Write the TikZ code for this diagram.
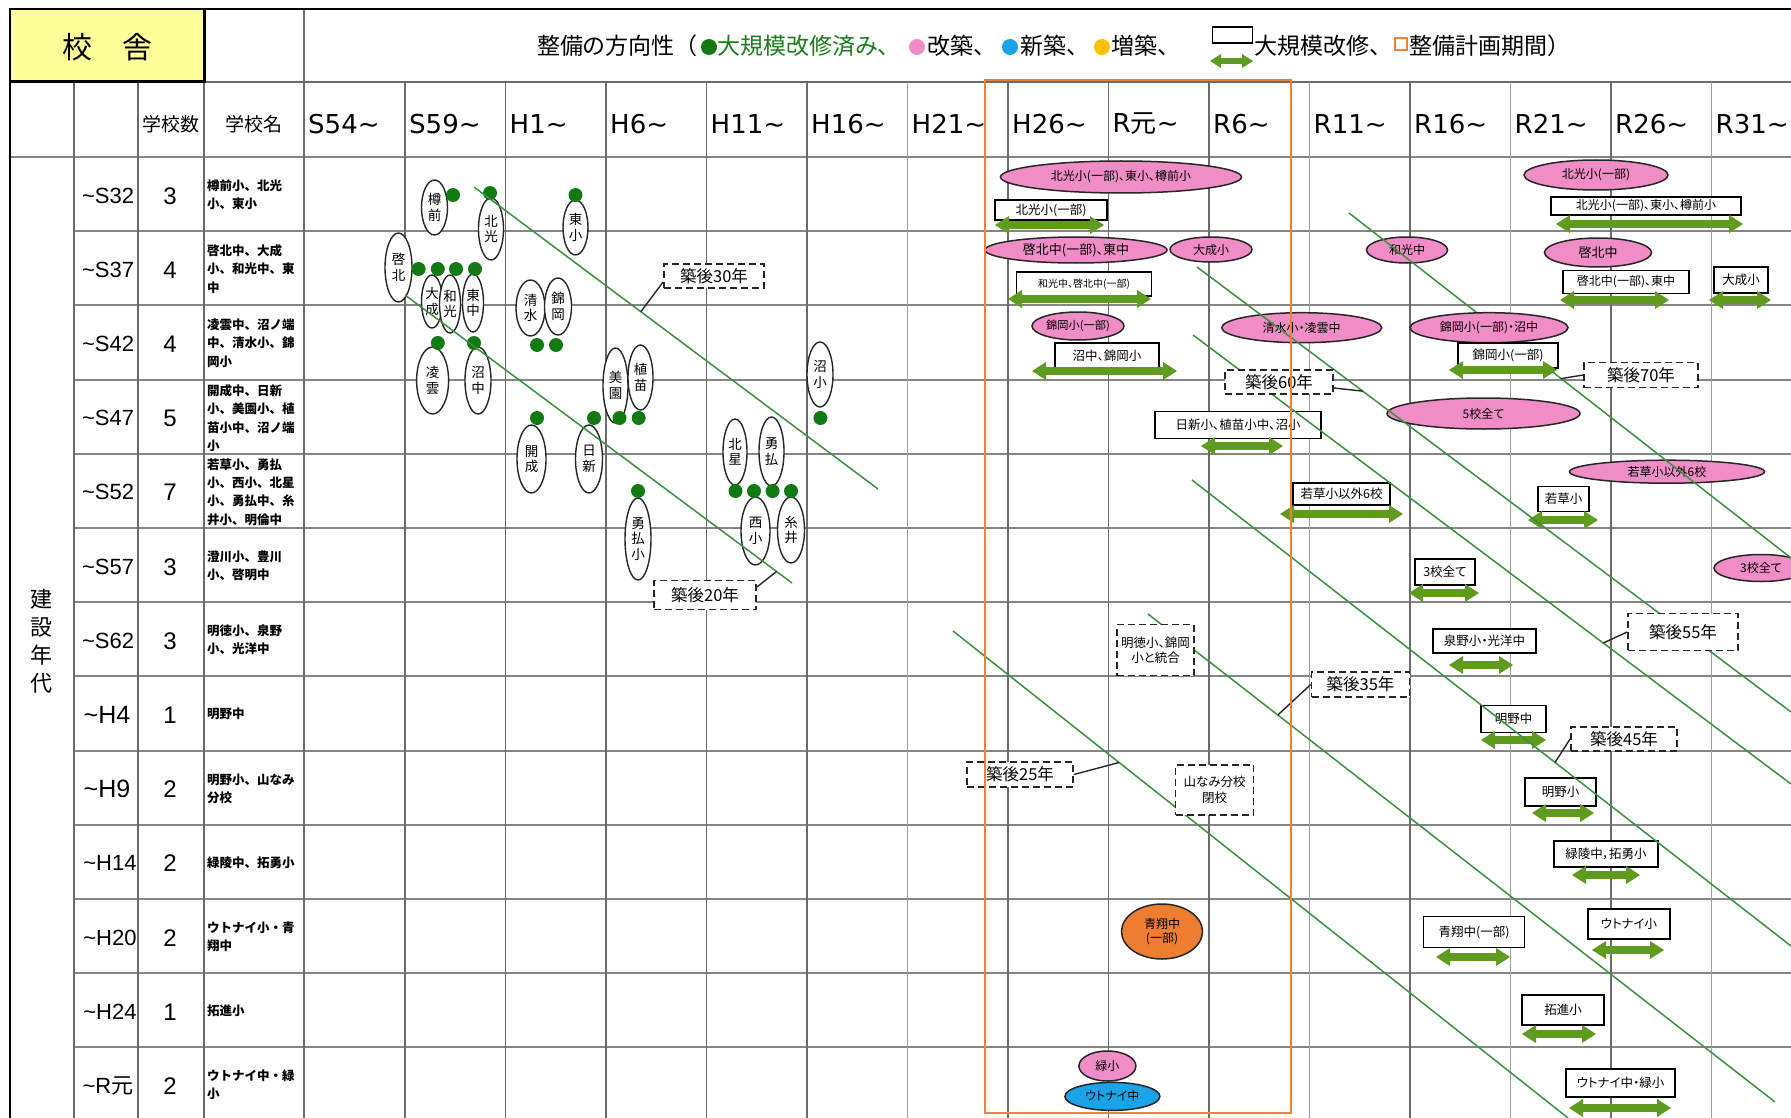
\documentclass[tikz,border=0pt]{standalone}
\usepackage{fontspec}
\usepackage{tikz}
\usetikzlibrary{shapes.geometric, arrows.meta, calc}
\setmainfont{Liberation Sans}
\newfontfamily\jp[RawFeature=+palt]{Noto Sans CJK JP}
\newfontfamily\jpm{Noto Sans CJK JP}
\newfontfamily\dvs{DejaVu Sans}
\definecolor{kkyellow}{HTML}{FFFF99}
\definecolor{kkpink}{HTML}{F08CC6}
\definecolor{kkblue}{HTML}{1AA3E6}
\definecolor{kkorange}{HTML}{ED7D31}
\definecolor{kkgold}{HTML}{FFC000}
\definecolor{kkframe}{HTML}{EE8236}
\definecolor{kkdot}{HTML}{127A12}
\definecolor{kktext}{HTML}{1C7C1C}
\definecolor{kkarrow}{HTML}{5E9B1E}
\definecolor{kkline}{HTML}{3A9140}

\begin{document}
\begin{tikzpicture}[
    x=1pt, y=-1pt,
    gridln/.style={draw=black!58, line width=1.7pt},
    gridlt/.style={draw=black!38, line width=1.4pt},
    rowln/.style={draw=black!48, line width=2pt},
    outerln/.style={draw=black, line width=2pt},
    hdr/.style={font=\dvs\fontsize{26}{26}\selectfont, anchor=west, inner sep=0pt},
    era/.style={font=\fontsize{22}{22}\selectfont, inner sep=0pt},
    cnt/.style={font=\fontsize{24}{24}\selectfont, inner sep=0pt},
    names/.style={font=\jpm\bfseries\fontsize{12.5}{18.3}\selectfont, anchor=west, align=left, inner sep=0pt},
    lgd/.style={font=\jp\fontsize{23}{23}\selectfont, anchor=west, inner sep=0pt},
    bld/.style={ellipse, draw=black!85, line width=1.4pt, fill=white, inner sep=0pt, align=center, font=\jp\fontsize{13.5}{15.5}\selectfont},
    done/.style={circle, fill=kkdot, inner sep=0pt, minimum size=14pt},
    rebuild/.style={ellipse, draw=black!85, line width=1.5pt, fill=kkpink, inner sep=0pt, align=center, font=\jp\fontsize{12}{14}\selectfont},
    renov/.style={rectangle, draw=black, line width=1.7pt, fill=white, inner sep=0pt, align=center, font=\jp\fontsize{12.5}{14}\selectfont},
    period/.style={draw=kkarrow, line width=8pt, arrows={Triangle[length=14pt,width=18pt,line width=0pt]-Triangle[length=14pt,width=18pt,line width=0pt]}},
    note/.style={rectangle, draw=black!85, line width=1.8pt, dash pattern=on 7pt off 4pt, fill=white, inner sep=0pt, align=center, font=\jp\fontsize{16.5}{18}\selectfont},
    memo/.style={note, font=\jp\fontsize{12.5}{15.5}\selectfont},
    ageln/.style={draw=kkline, line width=1.5pt},
    leader/.style={draw=black!85, line width=1.4pt}
]
\useasboundingbox (0,0) rectangle (1791,1118);
\clip (0,0) rectangle (1791,1118);
\fill[white] (0,0) rectangle (1791,1118);

% Header
\fill[kkyellow] (9,9) rectangle (204,82);
\node[font=\jp\fontsize{30}{30}\selectfont, inner sep=0pt] (kosha) at (107,47) {校　舎};

% Grid
\draw[gridln] (204,82) -- (1791,82);
\draw[rowln] (9,157) -- (1791,157);
\draw[rowln] (74,231.2) -- (1791,231.2) (74,305.4) -- (1791,305.4) (74,379.6) -- (1791,379.6)
  (74,453.8) -- (1791,453.8) (74,528) -- (1791,528) (74,602.2) -- (1791,602.2)
  (74,676.4) -- (1791,676.4) (74,750.6) -- (1791,750.6) (74,824.8) -- (1791,824.8)
  (74,899) -- (1791,899) (74,973.2) -- (1791,973.2) (74,1047.4) -- (1791,1047.4);
\draw[gridln] (74,82) -- (74,1118) (138,82) -- (138,1118) (204,82) -- (204,1118) (304,9) -- (304,1118)
  (405,82) -- (405,1118) (505.5,82) -- (505.5,1118) (606,82) -- (606,1118) (706.5,82) -- (706.5,1118)
  (807,82) -- (807,1118) (1008,82) -- (1008,1118) (1108.5,82) -- (1108.5,1118) (1209,82) -- (1209,1118)
  (1410,82) -- (1410,1118) (1611,82) -- (1611,1118);
\draw[gridlt] (907.5,82) -- (907.5,1118) (1309.5,82) -- (1309.5,1118) (1510.5,82) -- (1510.5,1118) (1711.5,82) -- (1711.5,1118);
\draw[outerln] (9.5,1118) -- (9.5,9) -- (1791,9);
\draw[line width=3pt] (9,82) -- (204,82) -- (204,9);

% Legend
\node[lgd] (lgtitle) at (537,46) {整備の方向性{\jpm （}};
\node[done, minimum size=16pt] (lgdone) at (709,47) {};
\node[lgd, text=kktext] (lgdonetxt) at (717,46) {大規模改修済み、};
\node[circle, fill=kkpink, minimum size=16pt, inner sep=0pt] (lgpink) at (917,47) {};
\node[lgd] (lgpinktxt) at (927,46) {改築、};
\node[circle, fill=kkblue, minimum size=16pt, inner sep=0pt] (lgblue) at (1010,47) {};
\node[lgd] (lgbluetxt) at (1020,46) {新築、};
\node[circle, fill=kkgold, minimum size=16pt, inner sep=0pt] (lggold) at (1102,47) {};
\node[lgd] (lggoldtxt) at (1111,46) {増築、};
\node[draw, line width=1.5pt, minimum width=40pt, minimum height=16pt, inner sep=0pt] (lgbox) at (1232.5,35) {};
\draw[draw=kkarrow, line width=6pt, arrows={Triangle[length=11pt,width=14pt,line width=0pt]-Triangle[length=11pt,width=14pt,line width=0pt]}] (1210,61) -- (1253,61);
\node[lgd] (lgboxtxt) at (1254,46) {大規模改修、};
\node[draw=kkframe, line width=1.8pt, fill=white, minimum size=12pt, inner sep=0pt] (lgframe) at (1401,44) {};
\node[lgd] (lgframetxt) at (1409,46) {整備計画期間{\jpm ）}};

% Column heads
\node[font=\jpm\fontsize{19}{19}\selectfont, inner sep=0pt] (hcount) at (171,124) {学校数};
\node[font=\jpm\fontsize{19}{19}\selectfont, inner sep=0pt] (hname) at (254,124) {学校名};
\node[hdr] (y1) at (308,124) {S54\textasciitilde};
\node[hdr] (y2) at (409,124) {S59\textasciitilde};
\node[hdr] (y3) at (509.5,124) {H1\textasciitilde};
\node[hdr] (y4) at (610,124) {H6\textasciitilde};
\node[hdr] (y5) at (710.5,124) {H11\textasciitilde};
\node[hdr] (y6) at (811,124) {H16\textasciitilde};
\node[hdr] (y7) at (911.5,124) {H21\textasciitilde};
\node[hdr] (y8) at (1012,124) {H26\textasciitilde};
\node[hdr] (y9) at (1112.5,124) {R{\jp 元}\textasciitilde};
\node[hdr] (y10) at (1213,124) {R6\textasciitilde};
\node[hdr] (y11) at (1313.5,124) {R11\textasciitilde};
\node[hdr] (y12) at (1414,124) {R16\textasciitilde};
\node[hdr] (y13) at (1514.5,124) {R21\textasciitilde};
\node[hdr] (y14) at (1615,124) {R26\textasciitilde};
\node[hdr] (y15) at (1715.5,124) {R31\textasciitilde};

% Rows
\node[font=\jpm\fontsize{22}{28}\selectfont, align=center, inner sep=0pt] (kensetsu) at (41,641) {建\\設\\年\\代};
\node[era] (e1) at (108,196) {\textasciitilde S32};
\node[era] (e2) at (108,270) {\textasciitilde S37};
\node[era] (e3) at (108,344) {\textasciitilde S42};
\node[era] (e4) at (108,418) {\textasciitilde S47};
\node[era] (e5) at (108,492) {\textasciitilde S52};
\node[era] (e6) at (108,567) {\textasciitilde S57};
\node[era] (e7) at (108,641) {\textasciitilde S62};
\node[era, font=\fontsize{25}{25}\selectfont] (e8) at (107,715) {\textasciitilde H4};
\node[era, font=\fontsize{25}{25}\selectfont] (e9) at (107,789) {\textasciitilde H9};
\node[era] (e10) at (110,863) {\textasciitilde H14};
\node[era] (e11) at (110,938) {\textasciitilde H20};
\node[era] (e12) at (110,1012) {\textasciitilde H24};
\node[era] (e13) at (108,1086) {\textasciitilde R{\jp 元}};
\node[cnt] (c1) at (170,196) {3};
\node[cnt] (c2) at (170,270) {4};
\node[cnt] (c3) at (170,344) {4};
\node[cnt] (c4) at (170,418) {5};
\node[cnt] (c5) at (170,492) {7};
\node[cnt] (c6) at (170,567) {3};
\node[cnt] (c7) at (170,641) {3};
\node[cnt] (c8) at (170,715) {1};
\node[cnt] (c9) at (170,789) {2};
\node[cnt] (c10) at (170,863) {2};
\node[cnt] (c11) at (170,938) {2};
\node[cnt] (c12) at (170,1012) {1};
\node[cnt] (c13) at (170,1086) {2};
\node[names] (n1) at (207,195) {樽前小、北光\\小、東小};
\node[names] (n2) at (207,269) {啓北中、大成\\小、和光中、東\\中};
\node[names] (n3) at (207,343) {凌雲中、沼ノ端\\中、清水小、錦\\岡小};
\node[names] (n4) at (207,418) {開成中、日新\\小、美園小、植\\苗小中、沼ノ端\\小};
\node[names] (n5) at (207,492) {若草小、勇払\\小、西小、北星\\小、勇払中、糸\\井小、明倫中};
\node[names] (n6) at (207,566) {澄川小、豊川\\小、啓明中};
\node[names] (n7) at (207,640) {明徳小、泉野\\小、光洋中};
\node[names] (n8) at (207,714) {明野中};
\node[names] (n9) at (207,789) {明野小、山なみ\\分校};
\node[names] (n10) at (207,863) {緑陵中、拓勇小};
\node[names] (n11) at (207,937) {ウトナイ小・青\\翔中};
\node[names] (n12) at (207,1011) {拓進小};
\node[names] (n13) at (207,1085) {ウトナイ中・緑\\小};

% Finished buildings
\node[bld, minimum width=26pt, minimum height=55pt] (tarumae) at (434.5,207.5) {樽\\前};
\node[bld, minimum width=25pt, minimum height=62pt] (hokko) at (491,229) {北\\光};
\node[bld, minimum width=25pt, minimum height=55pt] (higashi) at (575.5,227.5) {東\\小};
\node[bld, minimum width=27pt, minimum height=69pt] (keihoku) at (398.5,267.5) {啓\\北};
\node[bld, minimum width=21pt, minimum height=53pt] (taisei) at (432,301.5) {大\\成};
\node[bld, minimum width=21pt, minimum height=58pt] (wako) at (450,304) {和\\光};
\node[bld, minimum width=21pt, minimum height=58pt] (higashichu) at (473,303) {東\\中};
\node[bld, minimum width=29pt, minimum height=56pt] (shimizu) at (530.5,308) {清\\水};
\node[bld, minimum width=27pt, minimum height=57pt] (nishikioka) at (558,306.5) {錦\\岡};
\node[bld, minimum width=32pt, minimum height=67pt] (ryoun) at (432.6,380.5) {凌\\雲};
\node[bld, minimum width=26pt, minimum height=67pt] (numachu) at (478,380.5) {沼\\中};
\node[bld, minimum width=25pt, minimum height=75pt] (misono) at (615.5,385.5) {美\\園};
\node[bld, minimum width=25pt, minimum height=65pt] (uenae) at (640.5,377.5) {植\\苗};
\node[bld, minimum width=26pt, minimum height=65pt] (numasho) at (820,374.5) {沼\\小};
\node[bld, minimum width=29pt, minimum height=68pt] (kaisei) at (531.5,459) {開\\成};
\node[bld, minimum width=27pt, minimum height=68pt] (nisshin) at (589,459) {日\\新};
\node[bld, minimum width=24pt, minimum height=66pt] (hokusei) at (735,452) {北\\星};
\node[bld, minimum width=25pt, minimum height=69pt] (yufutsu) at (771.5,451.5) {勇\\払};
\node[bld, minimum width=29pt, minimum height=68pt] (nishi) at (755.5,531) {西\\小};
\node[bld, minimum width=27pt, minimum height=66pt] (itoi) at (791,530) {糸\\井};
\node[bld, minimum width=26pt, minimum height=82pt] (yufutsusho) at (638,539) {勇\\払\\小};
\node[done] (d1) at (453,195) {};
\node[done] (d2) at (490,193) {};
\node[done] (d3) at (575.5,195) {};
\node[done] (d4) at (418.6,269) {};
\node[done] (d5) at (437.8,269) {};
\node[done] (d6) at (456,269) {};
\node[done] (d7) at (475,269) {};
\node[done] (d8) at (537,345) {};
\node[done] (d9) at (556,345) {};
\node[done] (d10) at (437.8,343) {};
\node[done] (d11) at (474,343) {};
\node[done] (d12) at (619.5,418) {};
\node[done] (d13) at (638.7,418) {};
\node[done] (d14) at (820.4,418) {};
\node[done] (d15) at (537,418) {};
\node[done] (d16) at (594,418) {};
\node[done] (d17) at (735.5,491) {};
\node[done] (d18) at (754,491) {};
\node[done] (d19) at (772.6,491) {};
\node[done] (d20) at (791,491) {};
\node[done] (d21) at (638,491) {};

% Rebuilding
\node[rebuild, minimum width=241pt, minimum height=32pt] (p1) at (1121,177) {北光小(一部)、東小、樽前小};
\node[rebuild, minimum width=182pt, minimum height=26pt, font=\jp\fontsize{13}{14}\selectfont] (p2) at (1076,250) {啓北中(一部)、東中};
\node[rebuild, minimum width=82pt, minimum height=25pt] (p3) at (1211,249.5) {大成小};
\node[rebuild, minimum width=92pt, minimum height=28pt, font=\jp\fontsize{11.2}{13}\selectfont] (p4) at (1078,326) {錦岡小(一部)};
\node[rebuild, minimum width=160pt, minimum height=30pt] (p5) at (1301.7,327.7) {清水小・凌雲中};
\node[rebuild, minimum width=81pt, minimum height=26pt] (p6) at (1407,250) {和光中};
\node[rebuild, minimum width=193pt, minimum height=31pt] (p8) at (1483.5,413.5) {5校全て};
\node[rebuild, minimum width=144pt, minimum height=30pt] (p9) at (1596,175) {北光小(一部)};
\node[rebuild, minimum width=107pt, minimum height=29pt, font=\jp\fontsize{13}{14}\selectfont] (p10) at (1598,252.5) {啓北中};
\node[rebuild, minimum width=195pt, minimum height=23pt] (p11) at (1667,471.7) {若草小以外6校};
\node[rebuild, minimum width=94pt, minimum height=27pt] (p12) at (1761,568) {3校全て};
\node[rebuild, minimum width=57pt, minimum height=30pt] (p13) at (1107.4,1066) {緑小};
\node[rebuild, fill=kkblue, minimum width=95pt, minimum height=28pt] (b1) at (1112.4,1096.4) {ウトナイ中};
\node[rebuild, fill=kkorange, minimum width=81pt, minimum height=55pt] (o1) at (1162,931.5) {青翔中\\(一部)};

% Large renovations
\node[renov, minimum width=112pt, minimum height=20pt] (r1) at (1051,210) {北光小(一部)};
\draw[period] (995,225) -- (1104,225);
\node[renov, minimum width=135pt, minimum height=24pt, font=\jp\fontsize{10}{12}\selectfont] (r2) at (1084,284) {和光中、啓北中(一部)};
\draw[period] (1008,299) -- (1151,299);
\node[renov, minimum width=104pt, minimum height=25pt] (r3) at (1107,355.5) {沼中、錦岡小};
\draw[period] (1032,371) -- (1177,371);
\node[renov, minimum width=166pt, minimum height=27pt] (r4) at (1238,425) {日新小、植苗小中、沼小};
\draw[period] (1201,446) -- (1283,446);
\node[renov, minimum width=190pt, minimum height=18pt, font=\jp\fontsize{12}{13}\selectfont] (r6) at (1646,206) {北光小(一部)、東小、樽前小};
\draw[period] (1556,224) -- (1743,224);
\node[renov, minimum width=126pt, minimum height=23pt, font=\jp\fontsize{12}{13}\selectfont] (r7) at (1626,282) {啓北中(一部)、東中};
\draw[period] (1560,300) -- (1669,300);
\node[renov, minimum width=54pt, minimum height=26pt] (r8) at (1741,280) {大成小};
\draw[period] (1709,300) -- (1771,300);
\node[renov, minimum width=97pt, minimum height=22pt] (r9) at (1341.7,494) {若草小以外6校};
\draw[period] (1280,514) -- (1403,514);
\node[renov, minimum width=51pt, minimum height=25pt] (r10) at (1563.7,499) {若草小};
\draw[period] (1528,520) -- (1598,520);
\node[renov, minimum width=60pt, minimum height=26pt] (r11) at (1445,572) {3校全て};
\draw[period] (1409,593) -- (1479,593);
\node[renov, minimum width=103pt, minimum height=24pt] (r12) at (1484.6,641) {泉野小・光洋中};
\draw[period] (1449,665) -- (1513,665);
\node[renov, minimum width=65pt, minimum height=27pt] (r13) at (1513.5,719) {明野中};
\draw[period] (1481,740) -- (1546,740);
\node[renov, minimum width=71pt, minimum height=28pt] (r14) at (1560.6,792) {明野小};
\draw[period] (1532,813) -- (1594,813);
\node[renov, minimum width=104pt, minimum height=26pt] (r15) at (1606,854) {緑陵中，拓勇小};
\draw[period] (1572,875) -- (1640,875);
\node[renov, minimum width=101pt, minimum height=31pt] (r17) at (1474,932) {青翔中(一部)};
\draw[period] (1436,957) -- (1510,957);
\node[renov, minimum width=82pt, minimum height=30pt] (r16) at (1629,924) {ウトナイ小};
\draw[period] (1592,950) -- (1664,950);
\node[renov, minimum width=82pt, minimum height=30pt] (r18) at (1563,1010) {拓進小};
\draw[period] (1522,1034) -- (1596,1034);
\node[renov, minimum width=109pt, minimum height=28pt] (r19) at (1620.6,1083) {ウトナイ中・緑小};
\draw[period] (1569,1108) -- (1671,1108);

% Age lines
\coordinate (l20s) at (405,295);
\coordinate (l20e) at (792,583);
\coordinate (l30s) at (474,187);
\coordinate (l30e) at (878,489);
\coordinate (l25s) at (953,631);
\coordinate (l25e) at (1568,1118);
\coordinate (l35s) at (1148,614);
\coordinate (l35e) at (1775,1102);
\coordinate (l45s) at (1192,480);
\coordinate (l45e) at (1791,946);
\coordinate (l55s) at (1193,335);
\coordinate (l55e) at (1791,784);
\coordinate (l60s) at (1197,267);
\coordinate (l60e) at (1791,712);
\coordinate (l70s) at (1349,213);
\coordinate (l70e) at (1791,558);
\draw[ageln] (l20s) -- (l20e);
\draw[ageln] (l30s) -- (l30e);
\draw[ageln] (l25s) -- (l25e);
\draw[ageln] (l35s) -- (l35e);
\draw[ageln] (l45s) -- (l45e);
\draw[ageln] (l55s) -- (l55e);
\draw[ageln] (l60s) -- (l60e);
\draw[ageln] (l70s) -- (l70e);
\coordinate (t20) at ($(l20s)!0.96!(l20e)$);
\coordinate (t30) at ($(l30s)!0.413!(l30e)$);
\coordinate (t25) at ($(l25s)!0.27!(l25e)$);
\coordinate (t35) at ($(l35s)!0.207!(l35e)$);
\coordinate (t45) at ($(l45s)!0.606!(l45e)$);
\coordinate (t55) at ($(l55s)!0.686!(l55e)$);
\coordinate (t60) at ($(l60s)!0.279!(l60e)$);
\coordinate (t70) at ($(l70s)!0.48!(l70e)$);

% Shapes over the lines
\node[rebuild, minimum width=158pt, minimum height=30pt] (p7) at (1489,327.7) {錦岡小(一部)・沼中};
\node[renov, minimum width=100pt, minimum height=25pt] (r5) at (1508,355.7) {錦岡小(一部)};
\draw[period] (1449,370) -- (1557,370);

% Notes
\node[note, minimum width=100pt, minimum height=24pt] (k30) at (714,276) {築後30年};
\node[note, minimum width=102pt, minimum height=29pt] (k20) at (705,595) {築後20年};
\node[note, minimum width=108pt, minimum height=24pt] (k60) at (1279,382) {築後60年};
\node[note, minimum width=114pt, minimum height=25pt] (k70) at (1641,375) {築後70年};
\node[note, minimum width=110pt, minimum height=37pt] (k55) at (1683,632) {築後55年};
\node[note, minimum width=98pt, minimum height=25pt] (k35) at (1360.5,684.6) {築後35年};
\node[note, minimum width=106pt, minimum height=24pt] (k45) at (1624,739) {築後45年};
\node[note, minimum width=106pt, minimum height=25pt] (k25) at (1020,774.5) {築後25年};
\node[memo, minimum width=77pt, minimum height=51pt] (meitoku) at (1155.5,650) {明徳小、錦岡\\小と統合};
\node[memo, minimum width=78pt, minimum height=50pt] (yamanami) at (1214.5,790) {山なみ分校\\閉校};

% Leaders
\draw[leader] ($(k30.west)+(0,6)$) -- (t30);
\draw[leader] ($(k20.east)+(0,-8)$) -- (t20);
\draw[leader] ($(k60.east)+(0,6)$) -- (t60);
\draw[leader] (k70.west) -- (t70);
\draw[leader] (k55.west) -- (t55);
\draw[leader] (k35.west) -- (t35);
\draw[leader] (k45.west) -- (t45);
\draw[leader] (k25.east) -- (t25);

% Planning period
\draw[draw=kkframe, line width=2pt] (985,80) rectangle (1291,1113);

\end{tikzpicture}
\end{document}
